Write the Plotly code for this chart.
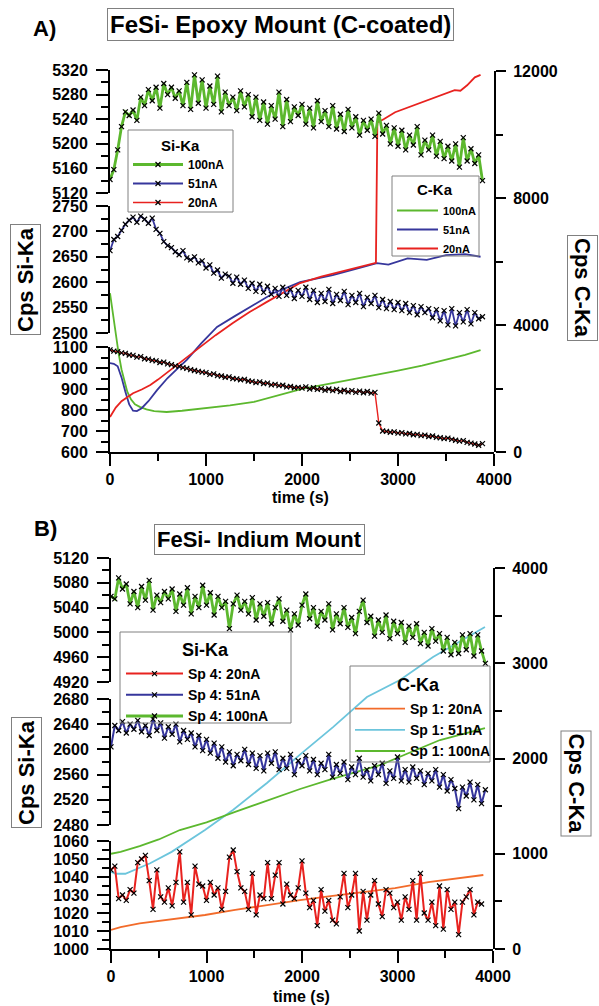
import plotly.graph_objects as go

W, H = 599, 1006
FONT = "Liberation Sans, Arial, sans-serif"

def fx(px):
    return px / W

def fy(py):
    return 1 - py / H

DT = 40  # sampling interval of the Si-Ka scans (s)

# ---------------- Panel A : FeSi Epoxy mount (C-coated) ----------------
A_si_100nA = [5142, 5158, 5190, 5228, 5252, 5246, 5255, 5238, 5276, 5262,
              5288, 5270, 5292, 5258, 5298, 5280, 5292, 5274, 5286, 5262,
              5300, 5256, 5312, 5266, 5304, 5258, 5294, 5264, 5310, 5252,
              5284, 5262, 5276, 5254, 5286, 5260, 5280, 5244, 5276, 5238,
              5268, 5232, 5262, 5240, 5284, 5228, 5272, 5236, 5260, 5246,
              5264, 5232, 5258, 5226, 5270, 5236, 5254, 5228, 5262, 5224,
              5248, 5220, 5256, 5226, 5244, 5214, 5238, 5222, 5240, 5212,
              5250, 5216, 5230, 5200, 5226, 5196, 5222, 5190, 5214, 5198,
              5228, 5182, 5206, 5190, 5214, 5180, 5204, 5176, 5196, 5172,
              5200, 5162, 5210, 5172, 5192, 5168, 5182, 5140]
A_si_51nA = [2662, 2684, 2690, 2702, 2714, 2722, 2728, 2718, 2730, 2724,
             2716, 2726, 2704, 2696, 2680, 2672, 2668, 2660, 2654, 2662,
             2648, 2644, 2650, 2638, 2642, 2628, 2634, 2618, 2624, 2608,
             2616, 2612, 2598, 2610, 2596, 2604, 2588, 2598, 2582, 2596,
             2580, 2592, 2576, 2588, 2572, 2590, 2574, 2586, 2568, 2584,
             2572, 2590, 2566, 2584, 2560, 2578, 2562, 2586, 2558, 2576,
             2564, 2582, 2556, 2574, 2560, 2578, 2552, 2570, 2558, 2574,
             2550, 2566, 2548, 2562, 2546, 2560, 2544, 2558, 2540, 2554,
             2536, 2552, 2540, 2548, 2530, 2546, 2524, 2544, 2516, 2548,
             2514, 2540, 2522, 2546, 2518, 2540, 2528, 2532]
A_si_20nA = [1086, 1080, 1078, 1072, 1070, 1062, 1060, 1052, 1054, 1044,
             1042, 1036, 1034, 1026, 1028, 1020, 1016, 1010, 1008, 1002,
             998, 992, 988, 984, 980, 978, 970, 972, 964, 962,
             956, 958, 950, 948, 944, 946, 938, 936, 930, 934,
             926, 928, 920, 922, 916, 918, 910, 912, 906, 908,
             904, 910, 900, 906, 898, 902, 894, 900, 892, 898,
             888, 894, 886, 892, 884, 890, 882, 888, 880, 884,
             738, 700, 698, 694, 696, 690, 692, 686, 688, 682,
             684, 678, 680, 674, 676, 670, 668, 664, 666, 660,
             656, 652, 654, 646, 642, 638, 632, 640]

A_c_100nA_t = [0, 30, 60, 90, 120, 150, 180, 220, 260, 310, 380, 460, 590, 750,
               1000, 1250, 1500, 1750, 2000, 2250, 2500, 2750, 3000, 3250, 3500, 3700, 3860]
A_c_100nA = [5000, 4350, 3700, 3100, 2600, 2200, 1900, 1650, 1500, 1420, 1340, 1290, 1260, 1300,
             1380, 1470, 1580, 1780, 1990, 2130, 2270, 2410, 2560, 2720, 2900, 3060, 3210]
A_c_51nA_t = [0, 40, 80, 120, 160, 200, 240, 280, 330, 400, 490, 600, 700, 800, 950, 1115,
              1300, 1460, 1700, 1980, 2320, 2600, 2780, 2900, 3100, 3300, 3500, 3700, 3860]
A_c_51nA = [2800, 2780, 2700, 2350, 1900, 1500, 1300, 1290, 1380, 1600, 1950, 2330, 2620, 2900, 3420, 3940,
            4280, 4570, 5000, 5350, 5570, 5800, 5950, 5900, 6100, 6050, 6200, 6230, 6150]
A_c_20nA_t = [0, 60, 120, 180, 240, 330, 420, 500, 590, 700, 800, 940, 1100, 1280, 1450, 1630, 1800,
              1980, 2200, 2400, 2600, 2770, 2785, 2850, 2970, 3150, 3310, 3450, 3590, 3650, 3720, 3800, 3860]
A_c_20nA = [1100, 1400, 1600, 1740, 1850, 1970, 2110, 2280, 2490, 2760, 3000, 3310, 3680, 4060, 4400, 4720, 5020,
            5320, 5520, 5670, 5830, 5960, 10380, 10480, 10700, 10900, 11090, 11250, 11400, 11380, 11550, 11800, 11880]

# ---------------- Panel B : FeSi Indium mount ----------------
B_si_100nA = [5058, 5054, 5088, 5070, 5078, 5046, 5066, 5040, 5074, 5052,
              5084, 5036, 5060, 5048, 5066, 5054, 5070, 5034, 5062, 5044,
              5072, 5030, 5058, 5040, 5076, 5044, 5064, 5028, 5058, 5040,
              5050, 5006, 5046, 5060, 5036, 5050, 5030, 5056, 5020, 5046,
              5026, 5048, 5014, 5040, 5054, 5018, 5036, 5004, 5030, 5012,
              5044, 5062, 5022, 5040, 5010, 5034, 5020, 5046, 5004, 5030,
              5014, 5040, 5008, 5024, 4998, 5034, 5052, 5016, 5026, 4994,
              5020, 5000, 5028, 4990, 5018, 4998, 5016, 4984, 5010, 4992,
              5014, 4982, 5000, 4978, 5006, 4986, 4998, 4970, 4992, 4964,
              4984, 4966, 4996, 4972, 4998, 4962, 4996, 4970, 4950]
B_si_51nA = [2604, 2638, 2630, 2644, 2626, 2640, 2632, 2646, 2628, 2638,
             2622, 2648, 2630, 2642, 2618, 2636, 2624, 2640, 2612, 2630,
             2616, 2626, 2604, 2622, 2598, 2616, 2594, 2610, 2586, 2604,
             2580, 2596, 2574, 2592, 2582, 2600, 2576, 2594, 2570, 2590,
             2566, 2594, 2578, 2596, 2568, 2586, 2570, 2592, 2560, 2582,
             2574, 2590, 2566, 2584, 2560, 2578, 2568, 2592, 2556, 2576,
             2562, 2580, 2552, 2572, 2560, 2586, 2556, 2568, 2550, 2574,
             2560, 2578, 2546, 2566, 2554, 2588, 2550, 2568, 2548, 2572,
             2554, 2566, 2544, 2562, 2550, 2568, 2540, 2560, 2534, 2552,
             2538, 2506, 2540, 2526, 2548, 2520, 2544, 2514, 2536]
B_si_20nA = [1044, 1046, 1028, 1030, 1027, 1033, 1031, 1048, 1050, 1052,
             1038, 1022, 1044, 1029, 1026, 1034, 1024, 1037, 1054, 1026,
             1037, 1019, 1046, 1036, 1035, 1027, 1037, 1030, 1034, 1022,
             1032, 1051, 1055, 1043, 1034, 1032, 1022, 1042, 1019, 1030,
             1028, 1048, 1028, 1041, 1048, 1025, 1036, 1030, 1028, 1034,
             1049, 1031, 1023, 1027, 1013, 1033, 1021, 1027, 1016, 1014,
             1029, 1042, 1023, 1030, 1042, 1010, 1032, 1016, 1030, 1038,
             1025, 1018, 1033, 1031, 1023, 1026, 1016, 1029, 1022, 1038,
             1016, 1042, 1020, 1016, 1026, 1013, 1035, 1011, 1033, 1022,
             1026, 1008, 1026, 1029, 1033, 1019, 1026, 1025]

B_c_20nA_t = [0, 100, 300, 600, 984, 1300, 1650, 1979, 2300, 2650, 2974, 3323, 3672, 3899]
B_c_20nA = [200, 230, 270, 310, 357, 410, 465, 514, 555, 600, 640, 703, 745, 777]
B_c_51nA_t = [0, 50, 150, 410, 635, 984, 1277, 1633, 1979, 2325, 2680, 3026, 3372, 3728, 3916]
B_c_51nA = [810, 790, 790, 900, 1020, 1250, 1460, 1743, 2040, 2330, 2645, 2824, 3066, 3276, 3380]
B_c_100nA_t = [0, 100, 300, 500, 721, 1000, 1300, 1650, 1980, 2300, 2600, 2817, 3100, 3445, 3700, 3916]
B_c_100nA = [1000, 1020, 1080, 1150, 1249, 1330, 1440, 1560, 1680, 1780, 1870, 1930, 2050, 2194, 2260, 2320]

GREEN = "#5cb82e"
BLUE = "#36369c"
RED = "#e8221f"
ORANGE = "#f26b2a"
CYAN = "#6cc5dc"
BOX = "#808080"


def times(values):
    return [DT * i for i in range(len(values))]


def si_trace(values, color, width, name, xa, ya, legend):
    return go.Scatter(x=times(values), y=values, mode="lines+markers", name=name,
                      line=dict(color=color, width=width),
                      marker=dict(symbol="x-thin", size=5, color="black",
                                  line=dict(color="black", width=1.2)),
                      xaxis=xa, yaxis=ya, legend=legend)


def c_trace(t, values, color, name, xa, ya, legend):
    return go.Scatter(x=t, y=values, mode="lines", name=name,
                      line=dict(color=color, width=1.8),
                      xaxis=xa, yaxis=ya, legend=legend)


fig = go.Figure()
# C-Ka first (drawn underneath)
fig.add_trace(c_trace(A_c_100nA_t, A_c_100nA, GREEN, "100nA", "x", "y", "legend2"))
fig.add_trace(c_trace(A_c_51nA_t, A_c_51nA, BLUE, "51nA", "x", "y", "legend2"))
fig.add_trace(c_trace(A_c_20nA_t, A_c_20nA, RED, "20nA", "x", "y", "legend2"))
fig.add_trace(si_trace(A_si_100nA, GREEN, 2.8, "100nA", "x", "y2", "legend"))
fig.add_trace(si_trace(A_si_51nA, BLUE, 1.8, "51nA", "x", "y3", "legend"))
fig.add_trace(si_trace(A_si_20nA, RED, 1.4, "20nA", "x", "y4", "legend"))

fig.add_trace(c_trace(B_c_20nA_t, B_c_20nA, ORANGE, "Sp 1: 20nA", "x2", "y5", "legend4"))
fig.add_trace(c_trace(B_c_51nA_t, B_c_51nA, CYAN, "Sp 1: 51nA", "x2", "y5", "legend4"))
fig.add_trace(c_trace(B_c_100nA_t, B_c_100nA, GREEN, "Sp 1: 100nA", "x2", "y5", "legend4"))
fig.add_trace(si_trace(B_si_20nA, RED, 2.0, "Sp 4: 20nA", "x2", "y8", "legend3"))
fig.add_trace(si_trace(B_si_51nA, BLUE, 2.0, "Sp 4: 51nA", "x2", "y7", "legend3"))
fig.add_trace(si_trace(B_si_100nA, GREEN, 2.8, "Sp 4: 100nA", "x2", "y6", "legend3"))

tickfont = dict(family=FONT, size=16, color="black", weight="bold")


def axis(domain, rng, dtick, minor, **kw):
    d = dict(domain=domain, range=rng, tickmode="linear", tick0=rng[0], dtick=dtick,
             showline=True, linewidth=2, linecolor="black", ticks="outside", ticklen=12,
             tickwidth=2, tickcolor="black", showgrid=False, zeroline=False,
             tickfont=tickfont, fixedrange=True, automargin=False, tickformat="d",
             minor=dict(dtick=minor, ticks="outside", ticklen=7, tickwidth=2,
                        tickcolor="black", showgrid=False))
    d.update(kw)
    return d


def left(domain, rng, dtick, minor, anchor):
    return axis(domain, rng, dtick, minor, anchor=anchor, ticklabelstandoff=5)


def right(domain, rng, dtick, minor, anchor):
    return axis(domain, rng, dtick, minor, anchor=anchor, side="right", ticklen=10,
                ticklabelstandoff=4)


def legend_at(px, py, fsize, iw):
    # legend entries only; frame and heading are drawn as layout shapes / annotations
    return dict(x=fx(px), y=fy(py), xanchor="left", yanchor="top",
                bgcolor="rgba(255,255,255,0)", borderwidth=0,
                font=dict(family=FONT, size=fsize, color="black", weight="bold"),
                itemwidth=iw, tracegroupgap=0, traceorder="normal")


def label(text, px, py, size, angle=0, box=False):
    a = dict(text="<b>" + text + "</b>", x=fx(px), y=fy(py), xref="paper", yref="paper",
             showarrow=False, xanchor="center", yanchor="middle", textangle=angle,
             font=dict(family=FONT, size=size, color="black"))
    if box:
        a.update(bordercolor=BOX, borderwidth=1, borderpad=2, bgcolor="white")
    return a


def frame(x0, y0, x1, y1):
    return dict(type="rect", xref="paper", yref="paper", x0=fx(x0), x1=fx(x1),
                y0=fy(y1), y1=fy(y0), line=dict(color=BOX, width=1),
                fillcolor="rgba(0,0,0,0)", layer="above")


fig.update_layout(
    template="none",
    width=W, height=H, margin=dict(l=0, r=0, t=0, b=0, autoexpand=False),
    paper_bgcolor="white", plot_bgcolor="rgba(0,0,0,0)",
    font=dict(family=FONT, color="black"), showlegend=True,
    xaxis=axis([fx(110), fx(494)], [0, 4000], 1000, 500, anchor="y4"),
    yaxis=right([fy(452), fy(71)], [0, 12000], 4000, 2000, "x"),
    yaxis2=left([fy(193), fy(70)], [5120, 5320], 40, 20, "x"),
    yaxis3=left([fy(333), fy(206)], [2500, 2750], 50, 25, "x"),
    yaxis4=left([fy(452), fy(347)], [600, 1100], 100, 50, "x"),
    xaxis2=axis([fx(111), fx(493)], [0, 4000], 1000, 500, anchor="y8"),
    yaxis5=right([fy(949), fy(568)], [0, 4000], 1000, 500, "x2"),
    yaxis6=left([fy(682), fy(558)], [4920, 5120], 40, 20, "x2"),
    yaxis7=left([fy(825), fy(699)], [2480, 2680], 40, 20, "x2"),
    yaxis8=left([fy(949), fy(841)], [1000, 1060], 10, 5, "x2"),
    legend=legend_at(128, 150, 12, 50),
    legend2=legend_at(392, 196, 11, 41),
    legend3=legend_at(121, 658, 14, 57),
    legend4=legend_at(350, 693, 14, 50),
    shapes=[frame(128, 130, 233, 212), frame(392, 176, 479, 256),
            frame(120, 632, 291, 723), frame(350, 666, 490, 762)],
    annotations=[
        label("A)", 44, 29, 22),
        label("FeSi- Epoxy Mount (C-coated)", 280.5, 24.5, 24, box=True),
        label("time (s)", 300, 497, 16),
        label("Cps Si-Ka", 25, 280, 22, angle=-90, box=True),
        label("Cps C-Ka", 583, 288, 22, angle=90, box=True),
        label("Si-Ka", 180, 146, 15),
        label("C-Ka", 435, 190, 15),
        label("B)", 45, 528, 22),
        label("FeSi- Indium Mount", 259, 539, 22, box=True),
        label("time (s)", 301, 996, 16),
        label("Cps Si-Ka", 26, 773, 22, angle=-90, box=True),
        label("Cps C-Ka", 576.5, 783, 22, angle=90, box=True),
        label("Si-Ka", 205, 650, 18),
        label("C-Ka", 418, 685, 18),
    ],
)

fig.write_html("out.html", config={"displayModeBar": False},
               post_script="document.body.style.margin='0px';")
